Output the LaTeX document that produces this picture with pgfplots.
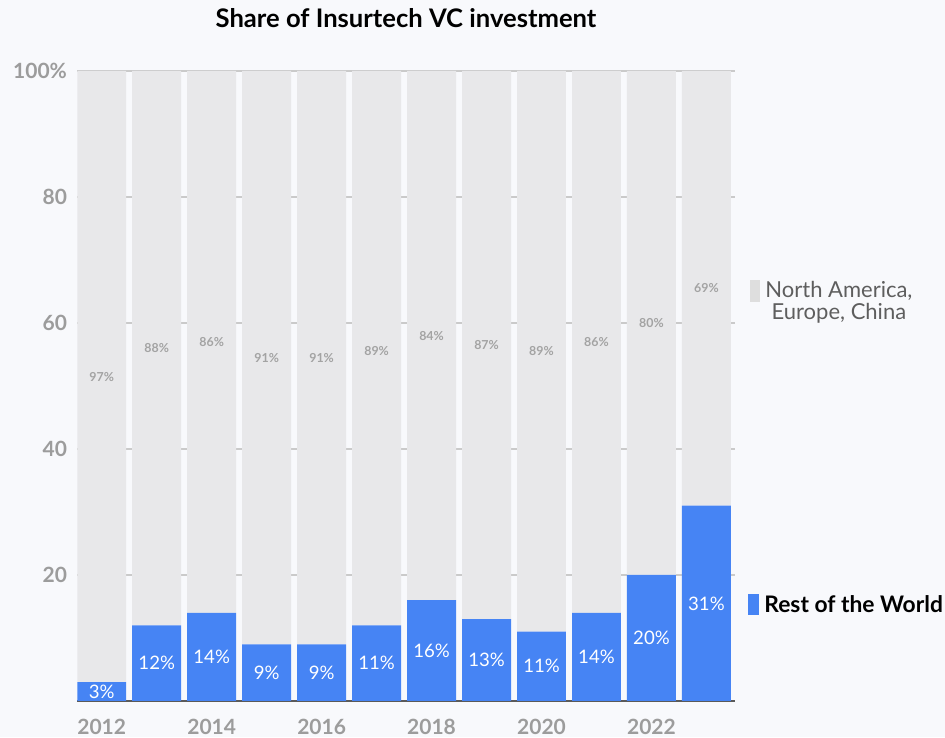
\documentclass[border=0pt]{standalone}
\usepackage{pgfplots}
\pgfplotsset{compat=1.18}
\usepackage{pgfplotstable}
\usepackage{fontspec}
\setmainfont{Lato}
\definecolor{bg}{HTML}{F8F9FC}
\definecolor{barblue}{HTML}{4684F4}
\definecolor{bargray}{HTML}{E8E8EA}
\definecolor{gridgray}{HTML}{CACACA}
\definecolor{tickgray}{HTML}{9C9C9C}
\definecolor{lblgray}{HTML}{A3A3A3}
\definecolor{leggray}{HTML}{5E5E5E}
\definecolor{swgray}{HTML}{DEDEDE}
\definecolor{axisdark}{HTML}{5A5A5A}

% b, g: drawn bar heights; lb, lg: printed labels
\pgfplotstableread{
x b g lb lg
0 3 97 3 97
1 12 88 12 88
2 14 86 14 86
3 9 91 9 91
4 9 91 9 91
5 12 88 11 89
6 16 84 16 84
7 13 87 13 87
8 11 89 11 89
9 14 86 14 86
10 20 80 20 80
11 31 69 31 69
}\datatable

\pgfplotsset{common/.style={
  at={(0,0)}, anchor=south west,
  scale only axis, width=329pt, height=315pt,
  xmin=-0.45, xmax=11.52, ymin=0, ymax=100,
  clip=false,
}}

\begin{document}
\begin{tikzpicture}[x=1pt,y=1pt]
\path[use as bounding box, fill=bg] (-38.5,-18) rectangle (434,350.5);
\begin{axis}[
  common,
  ybar stacked, bar width=0.89,
  axis line style={draw=none},
  tick style={draw=none},
  ymajorgrids, grid style={draw=gridgray, line width=0.7pt},
  ytick={20,40,60,80,100}, yticklabels={20,40,60,80,100\%},
  xtick={0,2,4,6,8,10}, xticklabels={2012,2014,2016,2018,2020,2022},
  ticklabel style={font=\fontsize{10.5}{12}\selectfont\bfseries, text=tickgray},
  xticklabel style={anchor=center, yshift=-13pt},
  yticklabel style={anchor=east, xshift=-1.5pt},
  title={Share of Insurtech VC investment},
  title style={at={(0.5,1)}, anchor=center, yshift=20.5pt, font=\fontsize{12.8}{15}\selectfont\bfseries},
]
\addplot[fill=barblue, draw=none] table[x=x, y=b] {\datatable};
\addplot[fill=bargray, draw=none] table[x=x, y=g] {\datatable};
\draw[axisdark, line width=1pt] (rel axis cs:0,0) -- (rel axis cs:1,0);
\node[anchor=base west, inner sep=0pt, xshift=7.5pt, yshift=-4.8pt, text=leggray, font=\fontsize{11}{12.5}\selectfont]
  at (axis cs:11.52,65.5) {\textcolor{swgray}{\rule[-2pt]{5pt}{11pt}}\hspace{2.5pt}\begin{tabular}[t]{@{}c@{}}North America,\\[-1.5pt] Europe, China\end{tabular}};
\node[anchor=base west, inner sep=0pt, xshift=6.5pt, yshift=-4.5pt, text=black, font=\fontsize{11.4}{13}\selectfont\bfseries]
  at (axis cs:11.52,15.5) {\textcolor{barblue}{\rule[-1.5pt]{5.5pt}{10.5pt}}\hspace{2.5pt}Rest of the World};
\end{axis}
\begin{axis}[common, hide axis, /pgf/number format/assume math mode=true]
\addplot[draw=none, mark=none,
  nodes near coords={\pgfmathprintnumber{\pgfplotspointmeta}\%},
  point meta=\thisrow{lb},
  nodes near coords style={text=white, font=\fontsize{9.3}{11}\selectfont, anchor=center, inner sep=0pt},
] table[x=x, y expr=\thisrow{b}/2] {\datatable};
\addplot[draw=none, mark=none,
  nodes near coords={\pgfmathprintnumber{\pgfplotspointmeta}\%},
  point meta=\thisrow{lg},
  nodes near coords style={text=lblgray, font=\fontsize{6.2}{7}\selectfont\bfseries, anchor=center, inner sep=0pt},
] table[x=x, y expr=\thisrow{lb}+\thisrow{lg}/2] {\datatable};
\end{axis}
\end{tikzpicture}
\end{document}
